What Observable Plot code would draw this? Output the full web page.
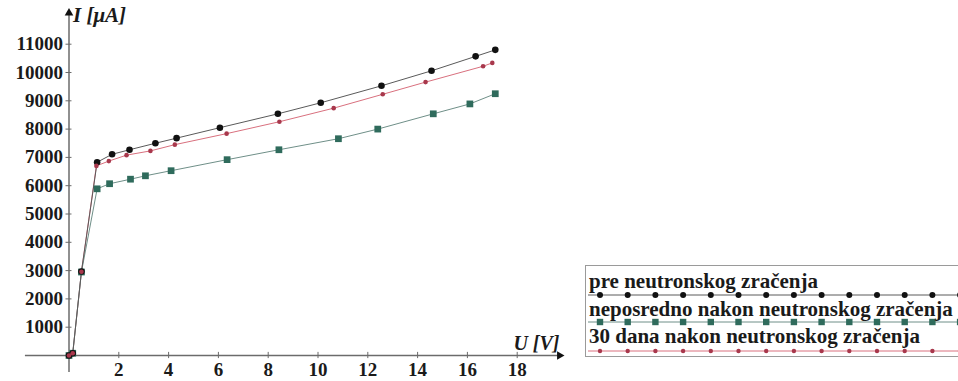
<!DOCTYPE html>
<html>
<head>
<meta charset="utf-8">
<script src="https://cdn.jsdelivr.net/npm/d3@7"></script>
<script src="https://cdn.jsdelivr.net/npm/@observablehq/plot@0.6"></script>
<style>
  html, body { margin: 0; padding: 0; background: #fff; }
  #chart { position: relative; width: 958px; height: 381px; overflow: hidden; }
  #chart svg text { font-family: "Liberation Serif", Tinos, "Times New Roman", "DejaVu Serif", serif !important; font-weight: bold; }
</style>
</head>
<body>
<div id="chart"></div>
<script>
// --- data ---
const preU   = [0, 0.15, 0.5, 1.13, 1.73, 2.43, 3.47, 4.32, 6.06, 8.39, 10.11, 12.55, 14.56, 16.33, 17.12];
const preI   = [0, 80, 2970, 6830, 7110, 7270, 7500, 7680, 8050, 8540, 8930, 9530, 10060, 10570, 10800];
const odmahU = [0, 0.15, 0.5, 1.13, 1.63, 2.47, 3.07, 4.1, 6.35, 8.43, 10.82, 12.4, 14.63, 16.1, 17.12];
const odmahI = [0, 80, 2950, 5890, 6070, 6230, 6350, 6530, 6920, 7270, 7660, 8000, 8540, 8890, 9250];
const danaU  = [0, 0.15, 0.5, 1.1, 1.6, 2.31, 3.27, 4.25, 6.33, 8.45, 10.63, 12.6, 14.32, 16.63, 17.0];
const danaI  = [0, 80, 2960, 6700, 6870, 7080, 7230, 7450, 7840, 8260, 8740, 9230, 9660, 10220, 10340];

const xTicks = [2, 4, 6, 8, 10, 12, 14, 16, 18];
const yTicks = [1000, 2000, 3000, 4000, 5000, 6000, 7000, 8000, 9000, 10000, 11000];

const seriesNames = ["pre neutronskog zračenja", "neposredno nakon neutronskog zračenja", "30 dana nakon neutronskog zračenja"];

const toRows = (us, is) => us.map((u, k) => ({u, i: is[k]}));
const pre = toRows(preU, preI);
const odmah = toRows(odmahU, odmahI);
const dana = toRows(danaU, danaI);

const axisColor = "#6b6b6b";
const blackLine = "#5a5a5a", blackDot = "#111";
const greenLine = "#6f8f88", greenDot = "#2f6b5c";
const redLine = "#d9707e", redDot = "#a8384c";
const fontSize = 19;
const serif = "'Liberation Serif', Tinos, 'Times New Roman', 'DejaVu Serif', serif";

const plot = Plot.plot({
  width: 958,
  height: 381,
  margin: 0,
  x: {domain: [0, 18], range: [68.5, 68.5 + 24.9 * 18]},
  y: {domain: [0, 11000], range: [355, 355 - 28.3 * 11]},
  style: {fontFamily: serif, background: "transparent"},
  marks: [
    // axes
    Plot.ruleY([0], {x1: -1.75, x2: 19.7, stroke: axisColor, strokeWidth: 1.5}),
    Plot.ruleX([0], {y1: -600, y2: 12100, stroke: axisColor, strokeWidth: 1.5}),
    Plot.dot([{x: 0, y: 12100}], {x: "x", y: "y", symbol: "triangle", r: 3.2, fill: "#111", stroke: null}),
    Plot.dot([{x: 19.7, y: 0}], {x: "x", y: "y", symbol: "triangle", r: 3.2, fill: "#111", stroke: null, rotate: 90}),
    Plot.ruleX(xTicks, {x: d => d, y1: -110, y2: 110, stroke: axisColor}),
    Plot.ruleY(yTicks, {y: d => d, x1: -0.12, x2: 0.12, stroke: axisColor}),
    Plot.text(xTicks, {x: d => d, y: 0, dy: 14, text: d => String(d), fontFamily: serif, fontSize, fontWeight: "bold", fill: "#1a1a1a"}),
    Plot.text(yTicks, {x: 0, y: d => d, dx: -6, text: d => String(d), textAnchor: "end", fontFamily: serif, fontSize, fontWeight: "bold", fill: "#1a1a1a"}),
    Plot.text(["I [μA]"], {x: 0, y: 12100, dx: 4, dy: 2, text: d => d, textAnchor: "start", fontFamily: serif, fontSize: 21, fontWeight: "bold", fontStyle: "italic", fill: "#1a1a1a"}),
    Plot.text(["U [V]"], {x: 19.7, y: 0, dx: 0, dy: -12, text: d => d, textAnchor: "end", fontFamily: serif, fontSize: 20, fontWeight: "bold", fontStyle: "italic", fill: "#1a1a1a"}),
    // series
    Plot.line(dana, {x: "u", y: "i", stroke: redLine, strokeWidth: 1}),
    Plot.line(odmah, {x: "u", y: "i", stroke: greenLine, strokeWidth: 1}),
    Plot.line(pre, {x: "u", y: "i", stroke: blackLine, strokeWidth: 1}),
    Plot.dot(odmah, {x: "u", y: "i", symbol: "square", r: 3.8, fill: greenDot, stroke: null}),
    Plot.dot(pre, {x: "u", y: "i", r: 3.3, fill: blackDot, stroke: null}),
    Plot.dot(dana, {x: "u", y: "i", r: 2.3, fill: redDot, stroke: null})
  ]
});

document.getElementById("chart").appendChild(plot);

// legend (drawn into the same svg)
const svg = d3.select(plot);
const lg = svg.append("g").attr("text-anchor", "start");
lg.append("rect").attr("x", 585.5).attr("y", 265.5).attr("width", 400).attr("height", 91)
  .attr("fill", "white").attr("stroke", "#9a9a9a").attr("stroke-width", 1);
const rows = [
  {name: seriesNames[0], ty: 288, my: 295, line: blackLine, kind: "circle", fill: blackDot},
  {name: seriesNames[1], ty: 316, my: 322, line: greenLine, kind: "square", fill: greenDot},
  {name: seriesNames[2], ty: 343, my: 351, line: redLine, kind: "small", fill: redDot}
];
rows.forEach(r => {
  lg.append("line").attr("x1", 588).attr("x2", 970).attr("y1", r.my).attr("y2", r.my)
    .attr("stroke", r.line).attr("stroke-width", 1);
  for (let k = 0; k < 14; k++) {
    const cx = 600 + k * 27.7;
    if (r.kind === "square") {
      lg.append("rect").attr("x", cx - 3.2).attr("y", r.my - 3.2).attr("width", 6.4).attr("height", 6.4).attr("fill", r.fill);
    } else {
      lg.append("circle").attr("cx", cx).attr("cy", r.my).attr("r", r.kind === "circle" ? 3 : 2.2).attr("fill", r.fill);
    }
  }
  lg.append("text").attr("x", 589).attr("y", r.ty).attr("text-anchor", "start").text(r.name)
    .attr("font-family", serif).attr("font-weight", "bold")
    .attr("font-size", 21).attr("fill", "#1a1a1a");
});
</script>
</body>
</html>
